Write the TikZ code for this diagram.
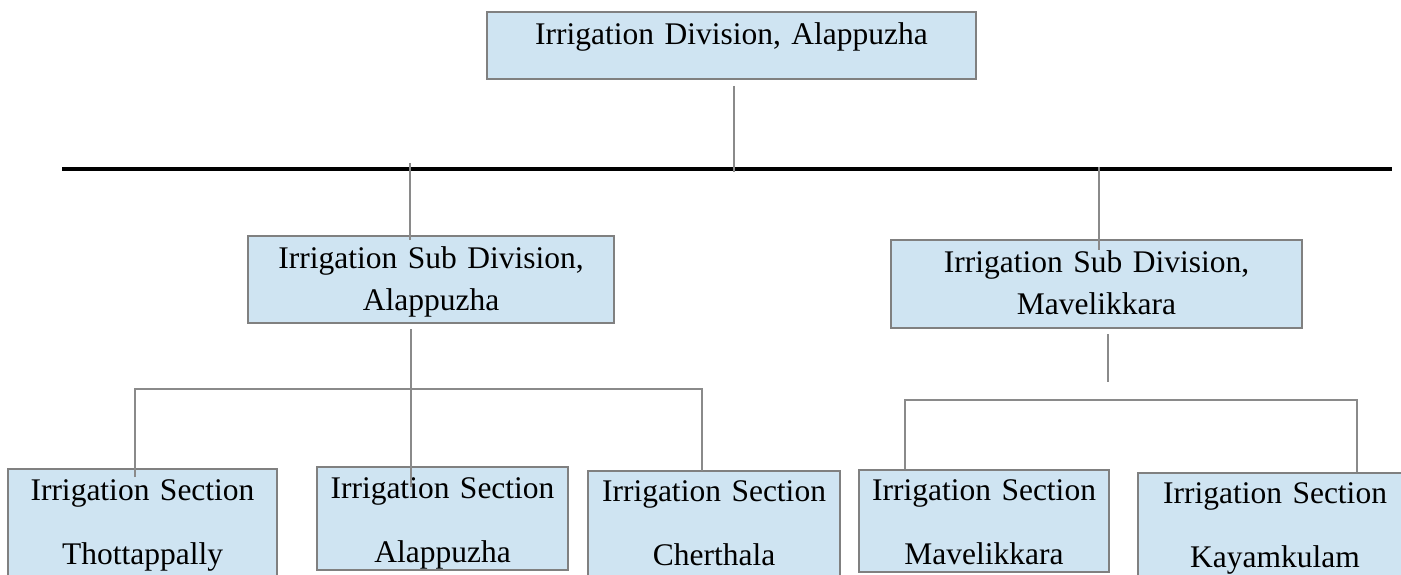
\documentclass[tikz,border=0pt]{standalone}
\usepackage{fontspec}
\setmainfont{Liberation Serif}
\definecolor{boxfill}{RGB}{207,228,242}
\definecolor{boxline}{RGB}{128,128,128}
\definecolor{connline}{RGB}{138,138,138}
\tikzset{
  box/.style={draw=boxline, line width=2pt, fill=boxfill, rectangle, inner sep=0pt, outer sep=0pt,
    anchor=north west, align=center, text=black},
  topbox/.style={box, font=\fontsize{31.5}{42}\selectfont, text height=25pt},
  subbox/.style={box, font=\fontsize{31.5}{42}\selectfont, text height=25pt},
  secbox/.style={box, font=\fontsize{31.5}{64.5}\selectfont, text height=25pt},
  conn/.style={draw=connline, line width=2pt},
  busline/.style={draw=black, line width=3.2pt}
}
\begin{document}
\begin{tikzpicture}[x=1pt,y=-1pt]
\useasboundingbox (0,0) rectangle (1401,575);
% boxes
\node[topbox, minimum width=489pt, minimum height=67pt, text width=480pt, text depth=26pt] (top) at (487,12) {Irrigation Division, Alappuzha};
\node[subbox, minimum width=366pt, minimum height=87pt, text width=356pt, text depth=48pt] (ls) at (248,236) {Irrigation Sub Division,\\Alappuzha};
\node[subbox, minimum width=411pt, minimum height=88pt, text width=400pt, text depth=49pt] (rs) at (891,240) {Irrigation Sub Division,\\Mavelikkara};
\node[secbox, minimum width=269pt, minimum height=107pt, text width=260pt, text depth=70pt] (s1) at (8,469) {Irrigation Section\\Thottappally};
\node[secbox, minimum width=251pt, minimum height=103pt, text width=244pt, text depth=66pt] (s2) at (317,467) {Irrigation Section\\Alappuzha};
\node[secbox, minimum width=252pt, minimum height=106pt, text width=244pt, text depth=71pt] (s3) at (588,471) {Irrigation Section\\Cherthala};
\node[secbox, minimum width=250pt, minimum height=102pt, text width=242pt, text depth=67pt] (s4) at (859,470) {Irrigation Section\\Mavelikkara};
\node[secbox, minimum width=274pt, minimum height=106pt, text width=266pt, text depth=71pt] (s5) at (1138,473) {Irrigation Section\\Kayamkulam};
% horizontal bus
\coordinate (busL) at (62,169);
\coordinate (busR) at (1392,169);
\draw[busline] (busL) -- (busR);
% connectors
\draw[conn] ([shift={(2.5,7)}]top.south) -- ++(0,86);
\draw[conn] ([shift={(-21,-73)}]ls.north) -- ++(0,77);
\draw[conn] ([shift={(2.5,-73)}]rs.north) -- ++(0,83);
\draw[conn] ([shift={(-20,6)}]ls.south) -- ++(0,158);
\draw[conn] ([shift={(-7.5,8)}]s1.north) |- ([shift={(-12,-82)}]s3.north) -- ([shift={(-12,0)}]s3.north);
\draw[conn] ([shift={(11.5,6)}]rs.south) -- ++(0,48);
\draw[conn] ([shift={(-79,-1)}]s4.north) |- ([shift={(82,-73)}]s5.north) -- ([shift={(82,-1)}]s5.north);
\end{tikzpicture}
\end{document}
